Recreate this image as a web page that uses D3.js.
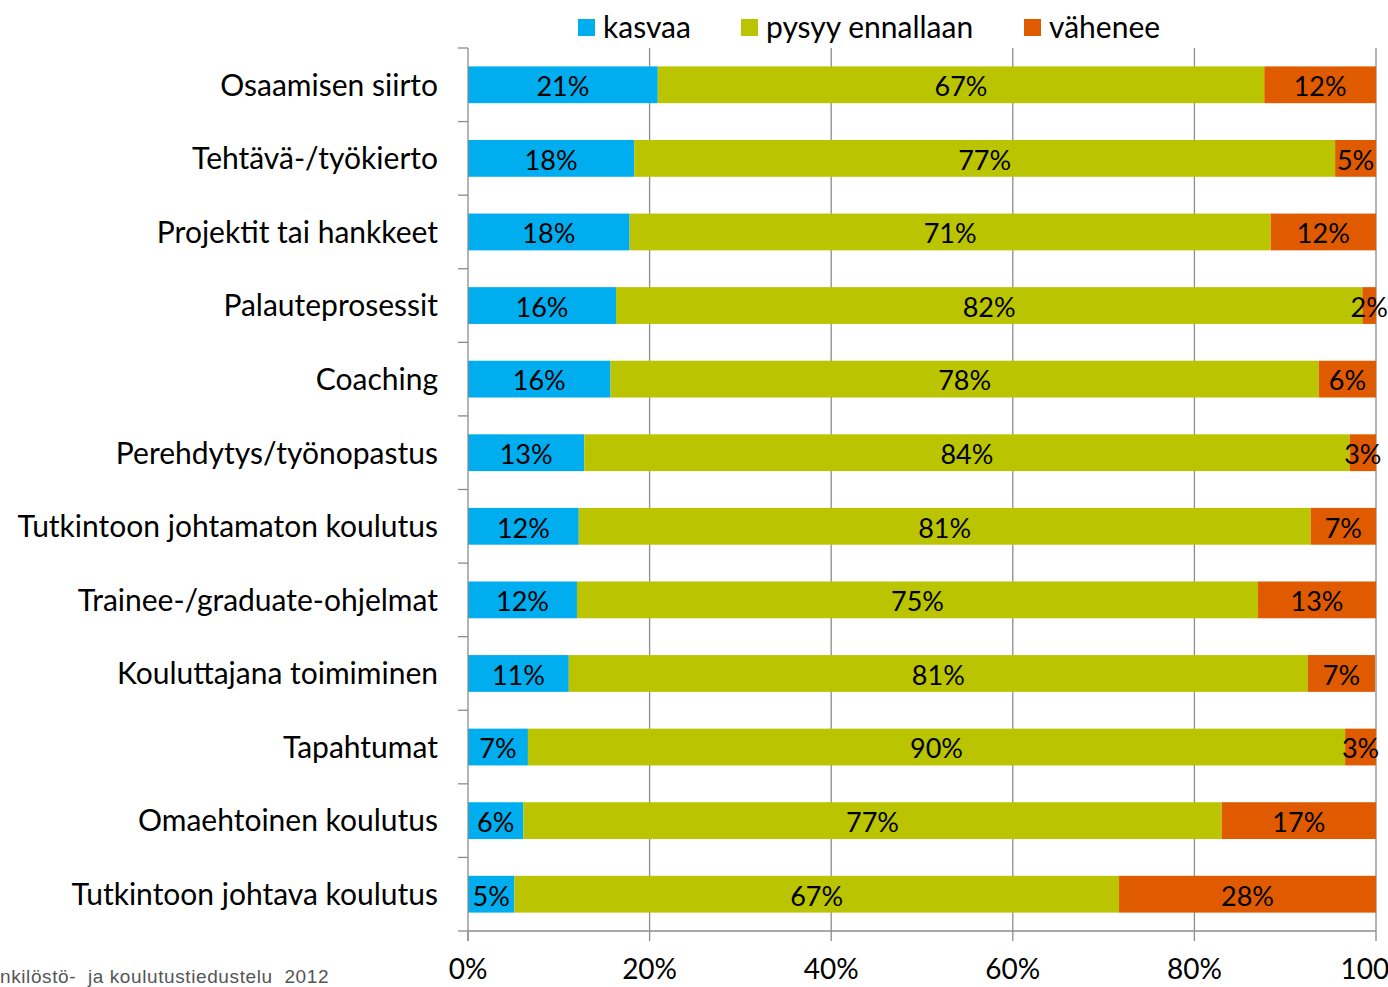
<!DOCTYPE html>
<html>
<head>
<meta charset="utf-8">
<script src="https://cdn.jsdelivr.net/npm/d3@7"></script>
<style>
  body { margin: 0; background: #fff; }
  svg { display: block; font-family: Lato, "Open Sans", sans-serif; }
</style>
</head>
<body>
<div id="chart"></div>
<script>
const categories = [
  "Osaamisen siirto", "Tehtävä-/työkierto", "Projektit tai hankkeet", "Palauteprosessit",
  "Coaching", "Perehdytys/työnopastus", "Tutkintoon johtamaton koulutus",
  "Trainee-/graduate-ohjelmat", "Kouluttajana toimiminen", "Tapahtumat",
  "Omaehtoinen koulutus", "Tutkintoon johtava koulutus"
];
const kasvaa  = [20.9, 18.3, 17.8, 16.3, 15.7, 12.8, 12.2, 12.0, 11.1, 6.6, 6.1, 5.1];
const pysyy   = [66.8, 77.2, 70.6, 82.2, 78.0, 84.3, 80.6, 75.0, 81.4, 90.0, 76.9, 66.6];
const vahenee = [12.3, 4.5, 11.6, 1.5, 6.3, 2.9, 7.2, 13.0, 7.4, 3.4, 17.0, 28.3];
const seriesNames = ["kasvaa", "pysyy ennallaan", "vähenee"];
const colors = ["#00aeef", "#bbc400", "#e05a00"];
const xTicks = [0, 20, 40, 60, 80, 100];
const footer = "nkilöstö-  ja koulutustiedustelu  2012";

const width = 1388, height = 987;
const margin = { top: 48, left: 468, right: 12, bottom: 56 };
const iwidth = width - margin.left - margin.right;
const iheight = height - margin.top - margin.bottom;

const svg = d3.select("#chart").append("svg")
  .attr("width", width)
  .attr("height", height);

const g = svg.append("g").attr("transform", `translate(${margin.left},${margin.top})`);

const x = d3.scaleLinear().domain([0, 100]).range([0, iwidth]);
const y = d3.scaleBand().domain(categories).range([0, iheight])
  .paddingInner(0.5).paddingOuter(0.25);

const rows = categories.map((c, i) => ({ cat: c, vals: [kasvaa[i], pysyy[i], vahenee[i]] }));
const stack = d3.stack().keys([0, 1, 2]).value((d, k) => d.vals[k]);
const layers = stack(rows);

// gridlines
g.selectAll("line.grid").data(xTicks.slice(1)).enter().append("line")
  .attr("x1", d => x(d)).attr("x2", d => x(d))
  .attr("y1", 0).attr("y2", iheight)
  .attr("stroke", "#8c8c8c").attr("stroke-width", 1.3);

// bars
const layer = g.selectAll("g.layer").data(layers).enter().append("g")
  .attr("fill", (d, i) => colors[i]);

layer.selectAll("rect").data(d => d).enter().append("rect")
  .attr("x", d => x(d[0]))
  .attr("y", d => y(d.data.cat))
  .attr("width", d => x(d[1]) - x(d[0]))
  .attr("height", y.bandwidth());

layer.selectAll("text").data(d => d).enter().append("text")
  .attr("x", d => (x(d[0]) + x(d[1])) / 2)
  .attr("y", d => y(d.data.cat) + y.bandwidth() / 2)
  .attr("dy", "0.42em")
  .attr("text-anchor", "middle")
  .attr("fill", "#000")
  .style("font-size", "27px")
  .text(d => Math.round(d[1] - d[0]) + "%");

// left axis
const step = y.step();
g.append("line").attr("x1", 0).attr("x2", 0).attr("y1", 0).attr("y2", iheight + 10)
  .attr("stroke", "#8c8c8c").attr("stroke-width", 1.3);
g.selectAll("line.ytick").data(d3.range(categories.length + 1)).enter().append("line")
  .attr("x1", -10).attr("x2", 0)
  .attr("y1", d => d * step).attr("y2", d => d * step)
  .attr("stroke", "#8c8c8c").attr("stroke-width", 1.3);
g.selectAll("text.ylab").data(categories).enter().append("text")
  .attr("x", -30)
  .attr("y", d => y(d) + y.bandwidth() / 2)
  .attr("dy", "0.36em")
  .attr("text-anchor", "end")
  .style("font-size", "30px")
  .text(d => d);

// bottom axis
g.append("line").attr("x1", 0).attr("x2", iwidth).attr("y1", iheight).attr("y2", iheight)
  .attr("stroke", "#8c8c8c").attr("stroke-width", 1.3);
g.selectAll("line.xtick").data(xTicks).enter().append("line")
  .attr("x1", d => x(d)).attr("x2", d => x(d))
  .attr("y1", iheight).attr("y2", iheight + 10)
  .attr("stroke", "#8c8c8c").attr("stroke-width", 1.3);
g.selectAll("text.xlab").data(xTicks).enter().append("text")
  .attr("x", d => x(d))
  .attr("y", iheight + 48)
  .attr("text-anchor", "middle")
  .style("font-size", "28px")
  .text(d => d + "%");

// legend
const legendX = [578, 741, 1024];
const legend = svg.selectAll("g.legend").data(seriesNames).enter().append("g")
  .attr("transform", (d, i) => `translate(${legendX[i]},19)`);
legend.append("rect").attr("width", 17).attr("height", 17).attr("fill", (d, i) => colors[i]);
legend.append("text").attr("x", 25).attr("y", 8.5).attr("dy", "0.36em")
  .style("font-size", "30px").text(d => d);

// footer
svg.append("text").attr("x", 0).attr("y", 983)
  .attr("fill", "#555")
  .attr("xml:space", "preserve")
  .style("white-space", "pre")
  .style("font-family", "'Liberation Sans', Arial, sans-serif")
  .style("font-size", "19px")
  .style("letter-spacing", "0.6px")
  .text(footer);
</script>
</body>
</html>
